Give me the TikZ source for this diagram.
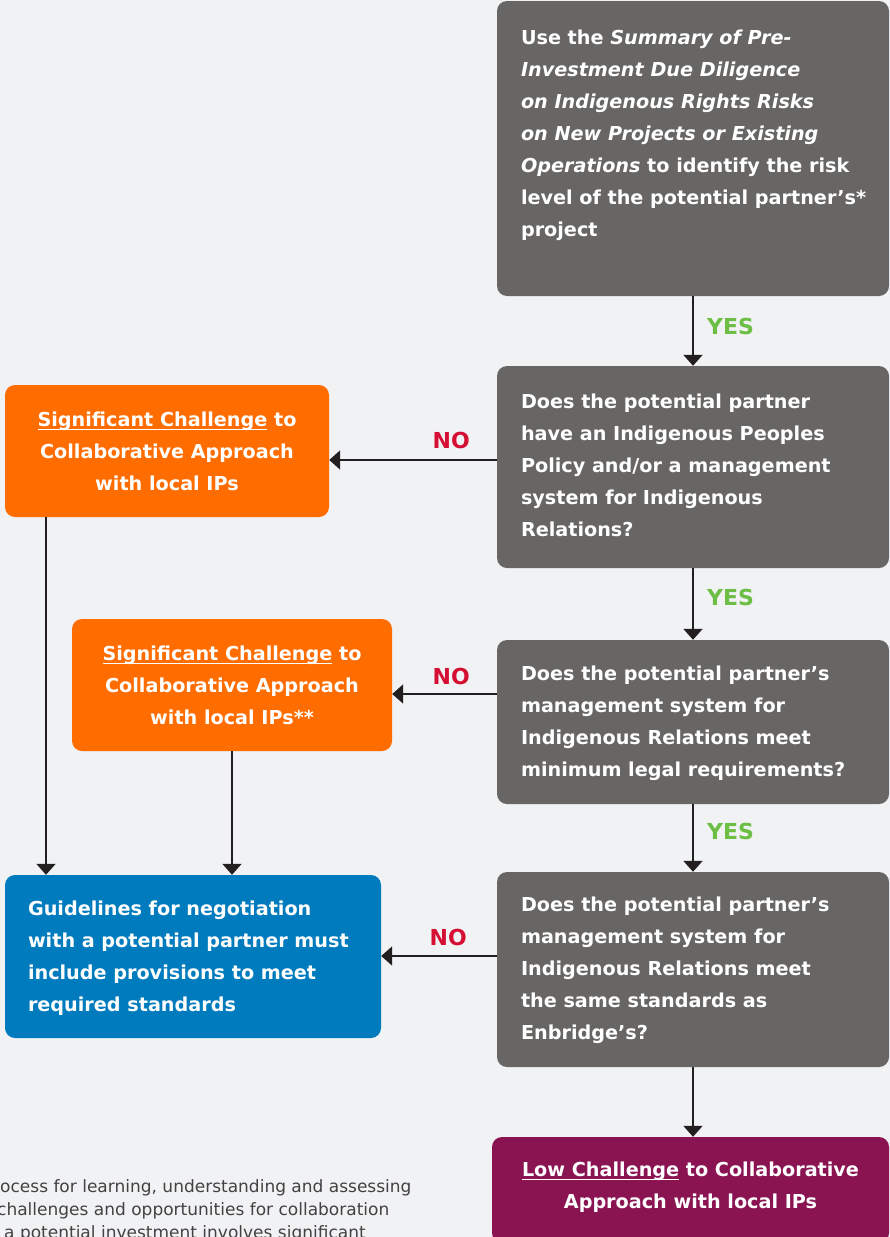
\documentclass[tikz,border=0pt]{standalone}
\usepackage{fontspec}
\setmainfont{DejaVu Sans}
\usetikzlibrary{arrows.meta,calc}
\definecolor{bgc}{HTML}{F1F2F4}
\definecolor{grayc}{HTML}{686664}
\definecolor{orangec}{HTML}{FF6C00}
\definecolor{bluec}{HTML}{007BBD}
\definecolor{purplec}{HTML}{8A1352}
\definecolor{yesc}{HTML}{6CBE45}
\definecolor{noc}{HTML}{D50F34}
\definecolor{arrowc}{HTML}{231F20}
\newcommand\myul[1]{\setbox0=\hbox{#1}\rlap{\rule[-3.6pt]{\wd0}{1.2pt}}\box0\relax}
\newcommand\boxfont{\fontsize{19.2}{32}\selectfont\bfseries}
\tikzset{
  boxnode/.style={rectangle, rounded corners=10pt, inner sep=0pt, draw=none},
  txtleft/.style={anchor=west, align=left, inner sep=0pt, text=white, font=\boxfont},
  txtcenter/.style={anchor=center, align=center, inner sep=0pt, text=white, font=\boxfont},
  arr/.style={draw=arrowc, line width=2pt, -{Triangle[width=19pt,length=11pt]}},
  yeslbl/.style={anchor=west, inner sep=0pt, text=yesc, font=\fontsize{22}{26}\selectfont\bfseries},
  nolbl/.style={anchor=east, inner sep=0pt, text=noc, font=\fontsize{22}{26}\selectfont\bfseries},
  foot/.style={anchor=base west, inner sep=0pt, text=arrowc!85, font=\fontsize{17}{23}\selectfont}
}
\begin{document}
\begin{tikzpicture}[x=1pt,y=-1pt]
\useasboundingbox (0,0) rectangle (890,1237);
\clip (0,0) rectangle (890,1237);
\fill[bgc] (0,0) rectangle (890,1237);

% boxes
\node[boxnode, fill=grayc, minimum width=392pt, minimum height=295pt] (b1) at (693,148.5) {};
\node[boxnode, fill=grayc, minimum width=392pt, minimum height=202pt] (b2) at (693,467) {};
\node[boxnode, fill=grayc, minimum width=392pt, minimum height=164pt] (b3) at (693,722) {};
\node[boxnode, fill=grayc, minimum width=392pt, minimum height=195pt] (b4) at (693,969.5) {};
\node[boxnode, fill=purplec, minimum width=397pt, minimum height=106pt] (b5) at (690.5,1190) {};
\node[boxnode, fill=orangec, minimum width=324pt, minimum height=132pt] (o1) at (167,451) {};
\node[boxnode, fill=orangec, minimum width=320pt, minimum height=132pt] (o2) at (232,685) {};
\node[boxnode, fill=bluec, minimum width=376pt, minimum height=163pt] (bl) at (193,956.5) {};

% texts
\node[txtleft] (t1) at ($(b1.west)+(24,-13.5)$) {Use the \textit{Summary of Pre-}\\\textit{Investment Due Diligence}\\\textit{on Indigenous Rights Risks}\\\textit{on New Projects or Existing}\\\textit{Operations} to identify the risk\\level of the potential partner’s*\\project};
\node[txtleft] (t2) at ($(b2.west)+(24,-2)$) {Does the potential partner\\have an Indigenous Peoples\\Policy and/or a management\\system for Indigenous\\Relations?};
\node[txtleft] (t3) at ($(b3.west)+(24,1)$) {Does the potential partner’s\\management system for\\Indigenous Relations meet\\minimum legal requirements?};
\node[txtleft] (t4) at ($(b4.west)+(24,0.5)$) {Does the potential partner’s\\management system for\\Indigenous Relations meet\\the same standards as\\Enbridge’s?};
\node[txtcenter] (t5) at ($(b5.center)+(0,-3)$) {\myul{Low Challenge} to Collaborative\\Approach with local IPs};
\node[txtcenter] (t6) at (o1.center) {\myul{Significant Challenge} to\\Collaborative Approach\\with local IPs};
\node[txtcenter] (t7) at (o2.center) {\myul{Significant Challenge} to\\Collaborative Approach\\with local IPs**};
\node[txtleft] (t8) at ($(bl.west)+(23,1.5)$) {Guidelines for negotiation\\with a potential partner must\\include provisions to meet\\required standards};

% helper coordinates
\coordinate (y1) at (0,460);
\coordinate (y2) at (0,694);
\coordinate (y3) at (0,956);
\coordinate (x1) at (46,0);
\coordinate (x2) at (232,0);

% arrows
\draw[arr] (b1.south) -- (b2.north);
\draw[arr] (b2.south) -- (b3.north);
\draw[arr] (b3.south) -- (b4.north);
\draw[arr] (b4.south) -- (b5.north -| b4.south);
\draw[arr] (b2.west |- y1) -- (o1.east |- y1);
\draw[arr] (b3.west |- y2) -- (o2.east |- y2);
\draw[arr] (b4.west |- y3) -- (bl.east |- y3);
\draw[arr] (o1.south -| x1) -- (bl.north -| x1);
\draw[arr] (o2.south -| x2) -- (bl.north -| x2);

% labels
\node[yeslbl] (l1) at (707,326) {YES};
\node[yeslbl] (l2) at (707,597) {YES};
\node[yeslbl] (l3) at (707,831) {YES};
\node[nolbl] (n1) at (470,440) {NO};
\node[nolbl] (n2) at (470,676) {NO};
\node[nolbl] (n3) at (467,937) {NO};

% footnote
\node[foot] (f1) at (0,1192) {ocess for learning, understanding and assessing};
\node[foot] (f2) at (-3,1215) {challenges and opportunities for collaboration};
\node[foot] (f3) at (4,1238) {a potential investment involves significant};
\end{tikzpicture}
\end{document}
